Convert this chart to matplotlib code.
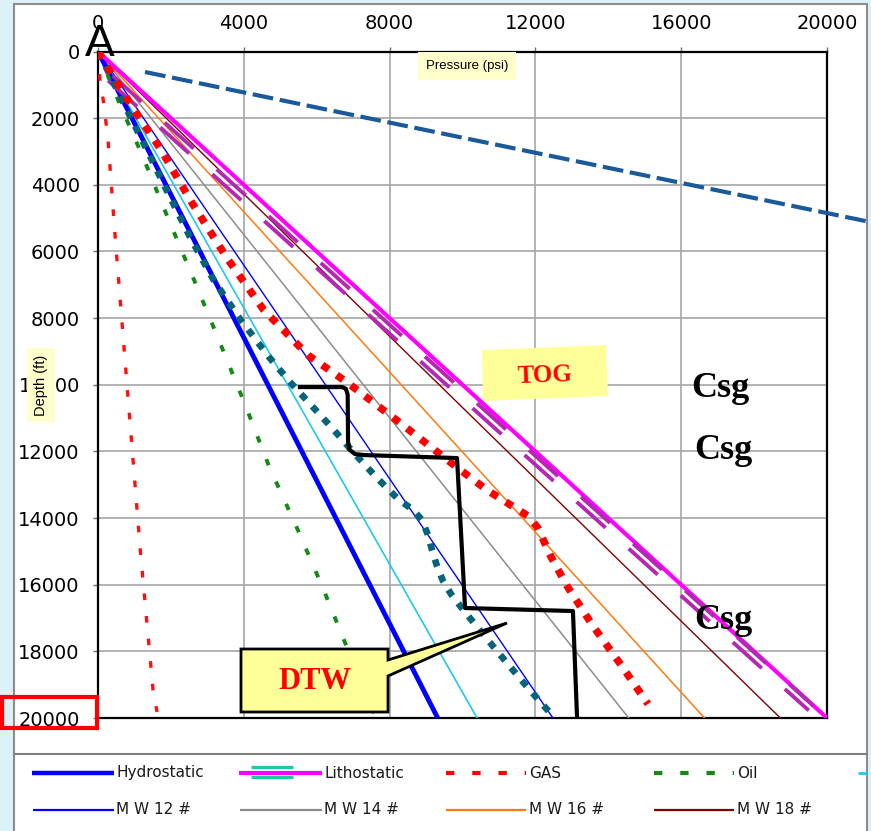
import matplotlib
matplotlib.use("Agg")
import matplotlib.pyplot as plt
from matplotlib.lines import Line2D
from matplotlib.patches import Rectangle, Polygon
from matplotlib.transforms import offset_copy

# ---------------- data (pressure in psi, depth in ft) ----------------
line_depth = [0, 20000]
hydro_p = [0, 9320]
litho_p = [0, 20000]
cyan_p = [0, 10400]
mw12_p = [0, 12480]
mw14_p = [0, 14560]
mw16_p = [0, 16640]
mw18_p = [0, 18720]

gas_d = [0, 1700, 2900, 4580, 6200, 7760, 9110, 9950, 11120, 12320, 13160,
         13670, 13940, 14300, 15170, 16040, 17240, 18410, 19580]
gas_p = [0, 960, 1700, 2600, 3540, 4550, 5760, 6860, 8260, 9660, 10670,
         11410, 11800, 12070, 12430, 12870, 13580, 14350, 15090]

oil_d = [0, 1245, 3170, 5000, 6920, 8750, 10580, 12440, 14300, 16100, 17960, 19910]
oil_p = [0, 466, 1235, 1920, 2660, 3350, 4030, 4690, 5460, 6170, 6860, 7600]

water_d = [0, 405, 1695, 2956, 4246, 5566, 6827, 8027, 9168, 9918, 10638, 11328,
           12048, 12768, 13458, 13728, 14058, 14509, 14959, 15439, 15889, 16279,
           16669, 17450, 18170, 18920, 19610, 19940]
water_p = [0, 192, 768, 1344, 1920, 2524, 3155, 3896, 4691, 5267, 5871, 6447,
           7023, 7627, 8258, 8615, 8889, 9054, 9163, 9300, 9465, 9684,
           9959, 10535, 11084, 11660, 12209, 12483]

lowgas_d = [0, 850, 1580, 2650, 3920, 5840, 7730, 9650, 14960, 19160, 19820]
lowgas_p = [0, 55, 160, 275, 360, 490, 630, 770, 1160, 1510, 1620]

tog_d = [800, 19700]
tog_p = [340, 19560]

upper_d = [615, 5120]
upper_p = [1290, 21200]

dtw_d = [10070, 10070, 10120, 10300, 11700, 11950, 12080, 12110, 12200, 16700, 16790, 19910]
dtw_p = [5540, 6700, 6800, 6850, 6860, 6900, 7050, 7300, 9850, 10070, 13030, 13140]

x_ticks = [0, 4000, 8000, 12000, 16000, 20000]
y_ticks = [0, 2000, 4000, 6000, 8000, 10000, 12000, 14000, 16000, 18000, 20000]

# ---------------- figure ----------------
W, H = 871, 831
fig = plt.figure(figsize=(W / 100, H / 100), dpi=100, facecolor='#dcf2f8')


def fx(px):
    return px / W


def fy(py):
    return 1 - py / H


fig.add_artist(Rectangle((fx(14), -0.01), fx(867) - fx(14), fy(4) + 0.01,
                         transform=fig.transFigure, facecolor='white',
                         edgecolor='#8c8c8c', lw=1.5, zorder=0))
fig.add_artist(Line2D([fx(14), fx(867)], [fy(754), fy(754)],
                      transform=fig.transFigure, color='#808080', lw=1.5))

ax = fig.add_axes([fx(98), fy(718), fx(827) - fx(98), fy(51.5) - fy(718)])
ax.set_facecolor('white')
ax.set_xlim(0, 20000)
ax.set_ylim(20000, 0)
ax.xaxis.tick_top()
ax.set_xticks(x_ticks)
ax.set_yticks(y_ticks)
ax.set_xticklabels([str(v) for v in x_ticks])
ax.set_yticklabels([str(v) for v in y_ticks])
ax.grid(True, color='#a6a6a6', lw=1.2)
ax.set_axisbelow(True)
for s in ax.spines.values():
    s.set_color('black')
    s.set_linewidth(1.6)
ax.tick_params(axis='both', direction='out', length=3.6, width=1.0, color='#707070',
               labelsize=14, labelcolor='black')
ax.tick_params(axis='x', pad=10)
ax.tick_params(axis='y', pad=9.5)
for lab in ax.get_xticklabels() + ax.get_yticklabels():
    lab.set_fontfamily('DejaVu Sans')

# mud-weight gradient lines
ax.plot(mw12_p, line_depth, color='#0000ff', lw=1.0, zorder=3)
ax.plot(mw14_p, line_depth, color='#8c8c8c', lw=1.1, zorder=3)
ax.plot(mw16_p, line_depth, color='#ff7a10', lw=1.1, zorder=3)
ax.plot(mw18_p, line_depth, color='#800000', lw=1.0, zorder=3)
ax.plot(cyan_p, line_depth, color='#1ec8f0', lw=1.2, zorder=3)

# hydrostatic and lithostatic
ax.plot(hydro_p, line_depth, color='#0000ff', lw=3.5, zorder=4, solid_capstyle='butt')
ax.plot(litho_p, line_depth, color='#ff00ff', lw=3.0, zorder=4, solid_capstyle='butt')

# double dashed gradient along the lithostatic
for sx, sy in [(1.6, 1.75), (-1.6, -1.75)]:
    tr = offset_copy(ax.transData, fig=fig, x=sx, y=sy, units='points')
    ax.plot(tog_p, tog_d, color='#b428b4', lw=2.8, dashes=(10, 8.0), transform=tr,
            zorder=5, solid_capstyle='butt', dash_capstyle='butt')

# fluid gradients
ax.plot(oil_p, oil_d, color='#138a13', lw=2.8, dashes=(1.7, 4.6), zorder=5,
        dash_capstyle='butt')
ax.plot(lowgas_p, lowgas_d, color='#ff1010', lw=2.4, dashes=(2.0, 4.8), zorder=5,
        dash_capstyle='butt')
ax.plot(water_p, water_d, color='#06647a', lw=4.8, dashes=(1.1, 1.4), zorder=6,
        dash_capstyle='butt')
ax.plot(gas_p, gas_d, color='#ff0000', lw=5.4, dashes=(1.05, 1.3), zorder=6,
        dash_capstyle='butt')

# stepped design line
ax.plot(dtw_p, dtw_d, color='black', lw=3.0, zorder=7, solid_joinstyle='round')

# upper dashed line running past the frame
ax.plot(upper_p, upper_d, color='#1a5a9a', lw=3.0, dashes=(5.0, 1.6), zorder=7,
        clip_on=False, dash_capstyle='butt')

# ---------------- callouts and labels ----------------
def px_to_data(px, py):
    return ((px - 98) / 729 * 20000, (py - 51.5) / 666.5 * 20000)


dtw_shape = [px_to_data(*p) for p in [(241, 649), (388, 649), (388, 660), (507, 623),
                                      (388, 676), (388, 712), (241, 712)]]
ax.add_patch(Polygon(dtw_shape, closed=True, facecolor='#ffff99', edgecolor='black',
                     lw=2.0, zorder=8, clip_on=False))
fig.text(fx(315), fy(689), 'DTW', color='#ff0000', fontsize=22, fontweight='bold',
         family='Liberation Serif', ha='center', va='baseline', zorder=9)

fig.add_artist(Polygon([(fx(482), fy(350)), (fx(606), fy(345)), (fx(608), fy(396)),
                        (fx(483), fy(401))], closed=True, transform=fig.transFigure,
                       facecolor='#ffff99', edgecolor='none', zorder=8))
fig.text(fx(545), fy(383), 'TOG', color='#ff0000', fontsize=18, fontweight='bold',
         family='Liberation Serif', ha='center', va='baseline', rotation=2, zorder=9)

for cx, by in [(720, 397), (723, 459), (723, 629)]:
    fig.text(fx(cx), fy(by), 'Csg', color='black', fontsize=26, fontweight='bold',
             family='Liberation Serif', ha='center', va='baseline', zorder=9)

fig.text(fx(100), fy(56), 'A', color='black', fontsize=32, family='Liberation Sans',
         ha='center', va='baseline', zorder=9)

fig.text(fx(41), fy(385), 'Depth (ft)', rotation=90, fontsize=10.5,
         family='Liberation Sans', ha='center', va='center', zorder=9,
         bbox=dict(boxstyle='square,pad=0.45', facecolor='#ffffcc', edgecolor='none'))
fig.text(fx(467), fy(66), 'Pressure (psi)', fontsize=9.5, family='Liberation Sans',
         ha='center', va='center', zorder=9,
         bbox=dict(boxstyle='square,pad=0.6', facecolor='#ffffcc', edgecolor='none'))

fig.add_artist(Rectangle((fx(2), fy(728)), fx(97) - fx(2), fy(697) - fy(728),
                         transform=fig.transFigure, facecolor='none',
                         edgecolor='#ff0000', lw=3.0, zorder=10))

# ---------------- legend strip ----------------
def legend_line(x0, x1, y, **kw):
    fig.add_artist(Line2D([fx(x0), fx(x1)], [fy(y), fy(y)], transform=fig.transFigure, **kw))


def legend_text(x, y, s):
    fig.text(fx(x), fy(y), s, fontsize=11, family='DejaVu Sans', ha='left', va='center',
             color='#1a1a1a')


r1, r2 = 773, 810
legend_line(32, 114, r1, color='#0000ff', lw=3.2, solid_capstyle='butt')
legend_text(116, r1, 'Hydrostatic')
legend_line(239, 322, r1, color='#ff00ff', lw=3.0, solid_capstyle='butt')
legend_line(251, 293, r1 - 6, color='#24c8a0', lw=2.4, solid_capstyle='butt')
legend_line(251, 293, r1 + 4, color='#24c8a0', lw=2.4, solid_capstyle='butt')
legend_text(324, r1, 'Lithostatic')
legend_line(446, 526, r1, color='#ff0000', lw=3.0, dashes=(2.0, 4.3), dash_capstyle='butt')
legend_text(529, r1, 'GAS')
legend_line(654, 734, r1, color='#138a13', lw=3.0, dashes=(2.0, 4.3), dash_capstyle='butt')
legend_text(737, r1, 'Oil')
legend_line(858, 867, r1, color='#1ec8f0', lw=2.0, solid_capstyle='butt')

legend_line(33, 114, r2, color='#0000ff', lw=1.6, solid_capstyle='butt')
legend_text(116, r2, 'M W 12 #')
legend_line(240, 322, r2, color='#8c8c8c', lw=1.6, solid_capstyle='butt')
legend_text(324, r2, 'M W 14 #')
legend_line(446, 526, r2, color='#ff7a10', lw=1.6, solid_capstyle='butt')
legend_text(529, r2, 'M W 16 #')
legend_line(654, 734, r2, color='#800000', lw=1.6, solid_capstyle='butt')
legend_text(737, r2, 'M W 18 #')

fig.savefig('out.png', dpi=100, facecolor=fig.get_facecolor())
